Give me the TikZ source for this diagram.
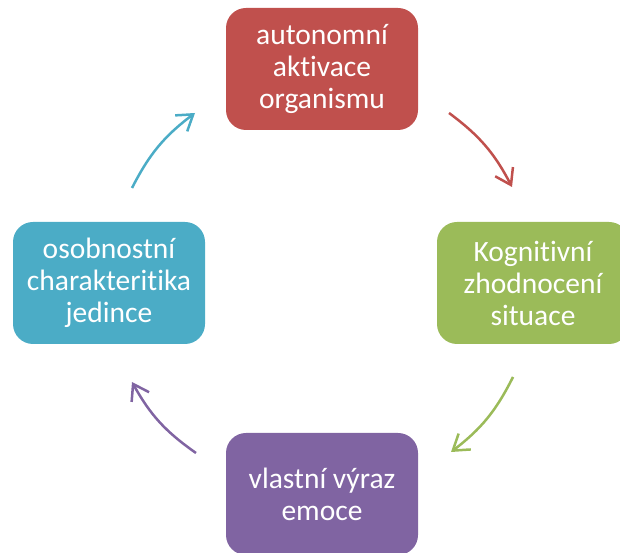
\documentclass[tikz,border=0pt]{standalone}
\usepackage{fontspec}
\setmainfont{Carlito}[Ligatures={NoCommon,NoContextual},Contextuals=NoAlternate]
\usetikzlibrary{arrows.meta}
\definecolor{cred}{HTML}{C0504D}
\definecolor{cgreen}{HTML}{9BBB59}
\definecolor{cpurple}{HTML}{8064A2}
\definecolor{cblue}{HTML}{4BACC6}
\begin{document}
\begin{tikzpicture}[x=1pt,y=1pt,
  box/.style={rounded corners=20pt, minimum width=192pt, minimum height=122pt,
    text=white, align=center, inner sep=0pt,
    font=\fontsize{29.5}{32}\selectfont},
  cyc/.style={line width=2.5pt, -{Straight Barb[length=15pt,width=20pt]}, bend left=13}]
\clip (0,0) rectangle (620,553);
\node[box, fill=cred] (act) at (322,484) {autonomní\\aktivace\\organismu};
\node[box, fill=cgreen] (kog) at (533,270) {Kognitivní\\zhodnocení\\situace};
\node[box, fill=cpurple] (vyr) at (322,59) {vlastní výraz\\emoce};
\node[box, fill=cblue] (osob) at (109,270) {osobnostní\\charakteritika\\jedince};
\coordinate (r1) at (449,440); \coordinate (r2) at (512,366);
\coordinate (g1) at (513,176); \coordinate (g2) at (451,101);
\coordinate (p1) at (196,100); \coordinate (p2) at (132,171);
\coordinate (b1) at (132,365); \coordinate (b2) at (195,440);
\draw[cyc, cred] (r1) to (r2);
\draw[cyc, cgreen] (g1) to (g2);
\draw[cyc, cpurple] (p1) to (p2);
\draw[cyc, cblue] (b1) to (b2);
\end{tikzpicture}
\end{document}
